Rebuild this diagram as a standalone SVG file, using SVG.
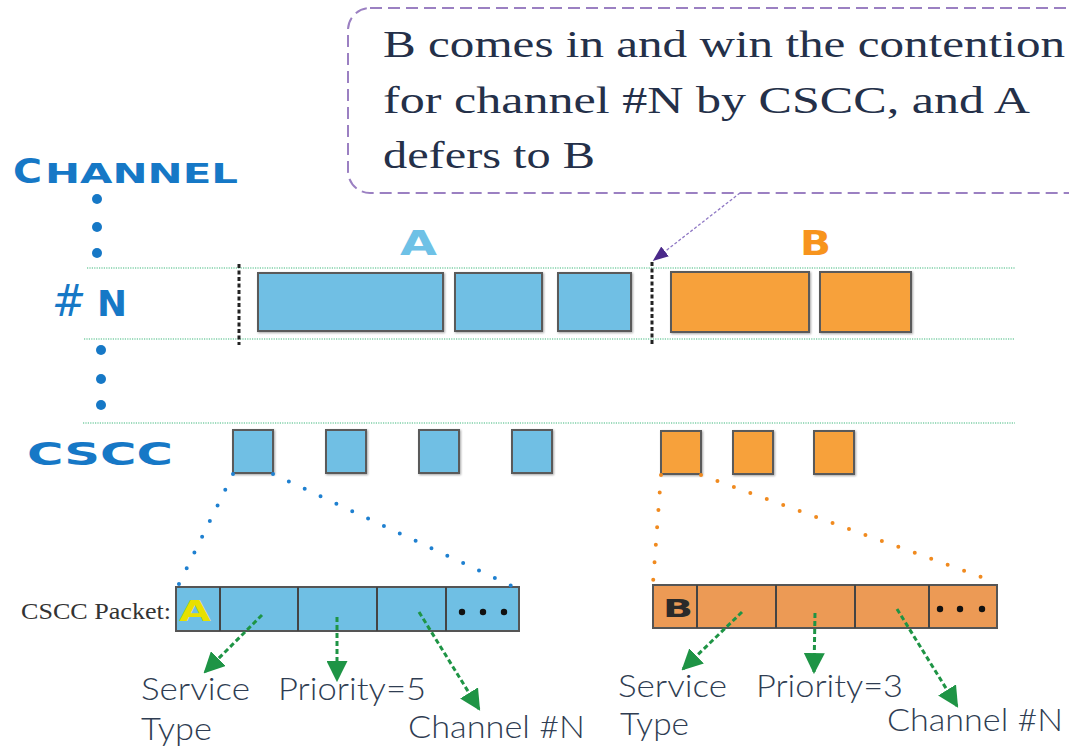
<svg xmlns="http://www.w3.org/2000/svg" width="1069" height="750" viewBox="0 0 1069 750">
  <defs>
    <style>
      .wide { font-family: "DejaVu Sans", "Liberation Sans", sans-serif; font-weight: bold; }
      .axis { fill: #1678C6; }
      .note { font-family: "Liberation Serif", "DejaVu Serif", serif; font-size: 37px; fill: #243049; }
      .field { font-family: Lato, "Open Sans", "Liberation Sans", sans-serif; font-weight: 300; font-size: 31px; fill: #2F3D52; }
      .lane { stroke: #7FD0A8; stroke-width: 1.6; stroke-dasharray: 1.2 1.2; fill: none; }
      .mark { stroke: #222; stroke-width: 3; stroke-dasharray: 4 2.5; fill: none; }
      .pa { fill: #6FBFE4; stroke: #5A5A5A; stroke-width: 2; filter: url(#sh); }
      .pb { fill: #F7A13B; stroke: #5A5A5A; stroke-width: 2; filter: url(#sh); }
      .pkA { fill: #6FBFE4; stroke: #555; stroke-width: 2; }
      .pkB { fill: #EC9A55; stroke: #555; stroke-width: 2; }
      .cell { stroke: #444; stroke-width: 2; }
      .dotA { stroke: #1F80D0; stroke-width: 4; stroke-linecap: round; stroke-dasharray: 0 17.5; fill: none; }
      .dotB { stroke: #F08A1F; stroke-width: 4; stroke-linecap: round; stroke-dasharray: 0 17.5; fill: none; }
      .ptr { stroke: #1E9445; stroke-width: 3; stroke-dasharray: 5 3; fill: none; marker-end: url(#gh); }
    </style>
    <filter id="sh" x="-10%" y="-10%" width="130%" height="130%">
      <feDropShadow dx="1" dy="1" stdDeviation="1" flood-color="#000" flood-opacity="0.35"/>
    </filter>
    <marker id="gh" viewBox="0 0 10 10" refX="9" refY="5" markerWidth="7" markerHeight="7" orient="auto" markerUnits="strokeWidth">
      <path d="M0,0 L10,5 L0,10 Z" fill="#1E9445"/>
    </marker>
    <marker id="ph" viewBox="0 0 10 10" refX="9" refY="5" markerWidth="12" markerHeight="12" orient="auto" markerUnits="strokeWidth">
      <path d="M0,1 L10,5 L0,9 Z" fill="#4B2A8A"/>
    </marker>
  </defs>

  <rect width="1069" height="750" fill="#FFFFFF"/>

  <!-- Callout box -->
  <g id="callout">
    <rect x="348" y="8" width="760" height="185" rx="22" fill="none" stroke="#9B80C2" stroke-width="2" stroke-dasharray="12 6"/>
    <text class="note" x="383" y="57" textLength="682" lengthAdjust="spacingAndGlyphs">B comes in and win the contention</text>
    <text class="note" x="383" y="113" textLength="647" lengthAdjust="spacingAndGlyphs">for channel #N by CSCC, and A</text>
    <text class="note" x="383" y="168" textLength="212" lengthAdjust="spacingAndGlyphs">defers to B</text>
  </g>

  <!-- Axis labels -->
  <g id="axis">
    <text class="wide axis" x="13" y="183" font-size="34" textLength="29" lengthAdjust="spacingAndGlyphs">C</text>
    <text class="wide axis" x="45" y="183" font-size="27" textLength="193" lengthAdjust="spacingAndGlyphs">HANNEL</text>
    <circle cx="97" cy="199" r="5" fill="#1678C6"/>
    <circle cx="97" cy="227" r="5" fill="#1678C6"/>
    <circle cx="97" cy="253" r="5" fill="#1678C6"/>
    <text class="axis" x="52" y="316" font-family="DejaVu Sans, sans-serif" font-size="44" font-style="italic" textLength="34" lengthAdjust="spacingAndGlyphs">#</text>
    <text class="wide axis" x="97" y="316" font-size="36" textLength="30" lengthAdjust="spacingAndGlyphs">N</text>
    <circle cx="101" cy="350" r="5" fill="#1678C6"/>
    <circle cx="101" cy="379" r="5" fill="#1678C6"/>
    <circle cx="101" cy="405" r="5" fill="#1678C6"/>
    <text class="wide axis" x="27" y="465" font-size="32" textLength="146" lengthAdjust="spacingAndGlyphs">CSCC</text>
  </g>

  <!-- Lane guides and contention marks -->
  <g id="lanes">
    <line class="lane" x1="87" y1="268" x2="1015" y2="268"/>
    <line class="lane" x1="84" y1="339" x2="1015" y2="339"/>
    <line class="lane" x1="83" y1="423" x2="1015" y2="423"/>
    <line class="mark" x1="239" y1="264" x2="239" y2="345"/>
    <line class="mark" x1="652" y1="262" x2="652" y2="345"/>
  </g>

  <!-- Data frames on channel #N -->
  <g id="frames-A">
    <text class="wide" x="400" y="255" font-size="34" fill="#6EC1E6" textLength="37" lengthAdjust="spacingAndGlyphs">A</text>
    <rect class="pa" x="258" y="273" width="185" height="58"/>
    <rect class="pa" x="455" y="273" width="87" height="58"/>
    <rect class="pa" x="558" y="273" width="73" height="58"/>
  </g>
  <g id="frames-B">
    <text class="wide" x="800" y="255" font-size="34" fill="#F7941D" textLength="31" lengthAdjust="spacingAndGlyphs">B</text>
    <rect class="pb" x="671" y="272" width="138" height="60"/>
    <rect class="pb" x="820" y="272" width="91" height="60"/>
  </g>

  <!-- CSCC control packets -->
  <g id="cscc-A">
    <rect class="pa" x="233" y="430" width="40" height="43"/>
    <rect class="pa" x="326" y="430" width="40" height="43"/>
    <rect class="pa" x="419" y="430" width="40" height="43"/>
    <rect class="pa" x="512" y="430" width="40" height="43"/>
  </g>
  <g id="cscc-B">
    <rect class="pb" x="661" y="431" width="40" height="43"/>
    <rect class="pb" x="733" y="431" width="40" height="43"/>
    <rect class="pb" x="814" y="431" width="40" height="43"/>
  </g>

  <!-- Packet field layouts -->
  <g id="packet-A">
    <text x="21" y="619" font-family="Liberation Serif, serif" font-size="24" fill="#333" textLength="150" lengthAdjust="spacingAndGlyphs">CSCC Packet:</text>
    <rect class="pkA" x="176" y="587" width="343" height="44"/>
    <line class="cell" x1="220" y1="587" x2="220" y2="631"/>
    <line class="cell" x1="298" y1="587" x2="298" y2="631"/>
    <line class="cell" x1="377" y1="587" x2="377" y2="631"/>
    <line class="cell" x1="446" y1="587" x2="446" y2="631"/>
    <text class="wide" x="179" y="621" font-size="29" fill="#E8E000" textLength="32" lengthAdjust="spacingAndGlyphs">A</text>
    <circle cx="462" cy="612" r="3.2" fill="#111"/>
    <circle cx="483" cy="612" r="3.2" fill="#111"/>
    <circle cx="504" cy="612" r="3.2" fill="#111"/>
  </g>
  <g id="packet-B">
    <rect class="pkB" x="653" y="585" width="344" height="43"/>
    <line class="cell" x1="697" y1="585" x2="697" y2="628"/>
    <line class="cell" x1="776" y1="585" x2="776" y2="628"/>
    <line class="cell" x1="855" y1="585" x2="855" y2="628"/>
    <line class="cell" x1="929" y1="585" x2="929" y2="628"/>
    <text class="wide" x="663" y="617" font-size="24" fill="#2A2A2A" textLength="30" lengthAdjust="spacingAndGlyphs">B</text>
    <circle cx="940" cy="609" r="3.2" fill="#111"/>
    <circle cx="960" cy="609" r="3.2" fill="#111"/>
    <circle cx="982" cy="609" r="3.2" fill="#111"/>
  </g>

  <!-- Field labels -->
  <g id="labels-A">
    <text class="field" x="141" y="700" textLength="109" lengthAdjust="spacingAndGlyphs">Service</text>
    <text class="field" x="141" y="740" textLength="71" lengthAdjust="spacingAndGlyphs">Type</text>
    <text class="field" x="278" y="700" textLength="148" lengthAdjust="spacingAndGlyphs">Priority=5</text>
    <text class="field" x="408" y="738" textLength="177" lengthAdjust="spacingAndGlyphs">Channel #N</text>
  </g>
  <g id="labels-B">
    <text class="field" x="618" y="697" textLength="109" lengthAdjust="spacingAndGlyphs">Service</text>
    <text class="field" x="620" y="735" textLength="69" lengthAdjust="spacingAndGlyphs">Type</text>
    <text class="field" x="756" y="697" textLength="147" lengthAdjust="spacingAndGlyphs">Priority=3</text>
    <text class="field" x="887" y="731" textLength="176" lengthAdjust="spacingAndGlyphs">Channel #N</text>
  </g>

  <!-- Connectors -->
  <g id="connectors">
    <line x1="740" y1="193" x2="654" y2="260" stroke="#8F78C4" stroke-width="1.3" stroke-dasharray="3 2" marker-end="url(#ph)"/>
    <line class="dotA" x1="233" y1="474" x2="176" y2="590"/>
    <line class="dotA" x1="273" y1="474" x2="512" y2="586"/>
    <line class="dotB" x1="661" y1="475" x2="653" y2="583"/>
    <line class="dotB" x1="701" y1="475" x2="992" y2="581"/>
    <line class="ptr" x1="262" y1="615" x2="205" y2="672"/>
    <line class="ptr" x1="337" y1="617" x2="337" y2="680"/>
    <line class="ptr" x1="419" y1="612" x2="479" y2="709"/>
    <line class="ptr" x1="742" y1="612" x2="683" y2="669"/>
    <line class="ptr" x1="815" y1="613" x2="814" y2="672"/>
    <line class="ptr" x1="897" y1="609" x2="957" y2="706"/>
  </g>
</svg>
